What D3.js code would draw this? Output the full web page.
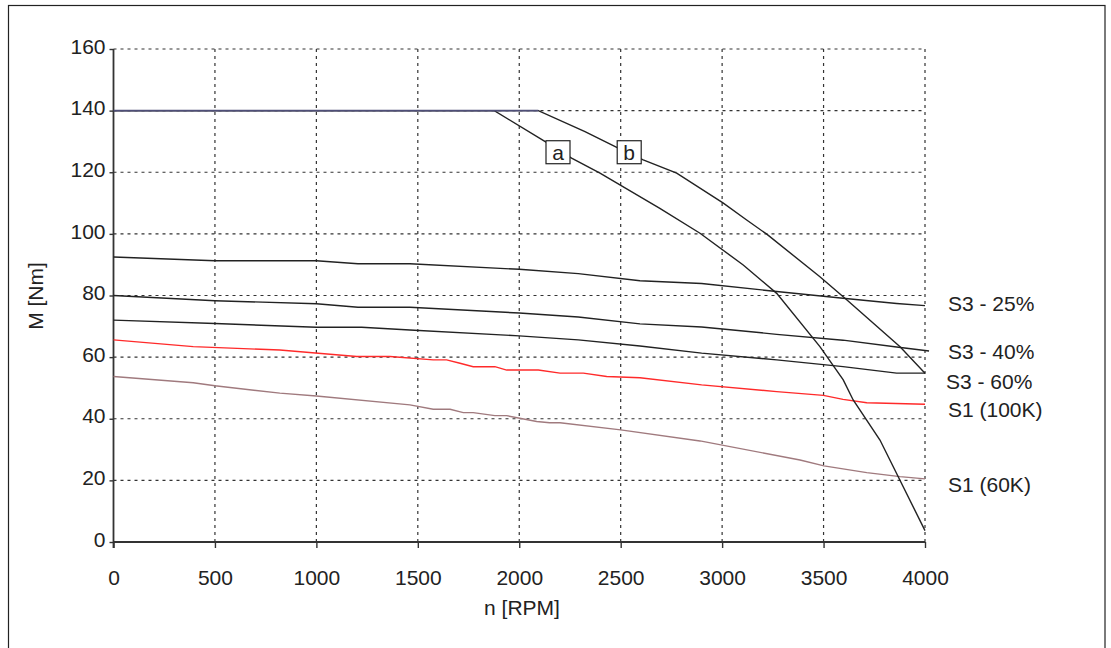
<!DOCTYPE html>
<html><head><meta charset="utf-8">
<script src="https://cdn.jsdelivr.net/npm/d3@7"></script>
<style>
html,body{margin:0;padding:0;background:#fff;}
svg{display:block;font-family:"Liberation Sans",Arial,sans-serif;}
</style></head>
<body>
<svg id="chart" width="1111" height="648"></svg>
<script>
// ---- data ----
const xTicks = [0, 500, 1000, 1500, 2000, 2500, 3000, 3500, 4000];
const yTicks = [0, 20, 40, 60, 80, 100, 120, 140, 160];

const maxTorqueRpm = [0, 2094];
const maxTorque = [140, 140];

const curveARpm = [0, 1877, 2126, 2258, 2398, 2693, 2891, 3104, 3269, 3482, 3597, 3646, 3778, 4000];
const curveA    = [140, 140, 130.0, 124.6, 119.7, 108.3, 100.2, 89.9, 80.7, 63.4, 52.6, 46.1, 33.1, 3.7];

const curveBRpm = [0, 2094, 2324, 2488, 2611, 2776, 3006, 3121, 3220, 3482, 3614, 3877, 4000];
const curveB    = [140, 140, 133.2, 127.8, 124.0, 119.7, 110.0, 104.5, 99.9, 86.1, 78.6, 63.4, 54.8];

const s3_25Rpm = [0, 500, 1000, 1205, 1461, 2000, 2291, 2595, 2899, 3269, 3596, 3860, 4000];
const s3_25    = [92.5, 91.3, 91.3, 90.3, 90.3, 88.5, 87.1, 84.8, 83.9, 81.3, 79.1, 77.4, 76.7];

const s3_40Rpm = [0, 500, 1000, 1205, 1461, 2000, 2291, 2595, 2899, 3269, 3596, 3860, 4020];
const s3_40    = [80.0, 78.3, 77.3, 76.2, 76.2, 74.3, 73.0, 70.8, 69.8, 67.4, 65.5, 63.3, 62.0];

const s3_60Rpm = [0, 500, 1000, 1223, 1461, 2000, 2291, 2595, 2899, 3269, 3596, 3860, 4000];
const s3_60    = [72.0, 70.9, 69.7, 69.7, 68.8, 66.9, 65.6, 63.6, 61.3, 59.1, 56.9, 54.8, 54.8];

const s1_100Rpm = [0, 393, 820, 1199, 1363, 1576, 1642, 1708, 1773, 1880, 1938, 2094, 2201, 2316, 2431, 2595, 2899, 3269, 3499, 3596, 3713, 4000];
const s1_100    = [65.6, 63.4, 62.3, 60.2, 60.2, 59.1, 59.1, 58.0, 56.9, 56.9, 55.8, 55.8, 54.8, 54.8, 53.7, 53.3, 51.0, 48.8, 47.6, 46.3, 45.2, 44.7];

const s1_60Rpm = [0, 393, 500, 820, 1000, 1461, 1576, 1659, 1724, 1773, 1880, 1938, 2086, 2150, 2201, 2500, 2891, 3384, 3502, 3713, 3877, 4000];
const s1_60    = [53.7, 51.7, 50.7, 48.3, 47.4, 44.5, 43.1, 43.1, 42.0, 42.0, 41.0, 41.0, 39.1, 38.7, 38.7, 36.4, 32.8, 26.6, 24.7, 22.5, 21.2, 20.5];

const seriesLabels = ["S3 - 25%", "S3 - 40%", "S3 - 60%", "S1 (100K)", "S1 (60K)"];
const boxLabels = ["a", "b"];
const boxRpm = [2191, 2542];
const boxTorque = [126.5, 126.5];

// ---- layout ----
const FS = 21;
const svg = d3.select("#chart");
const x = d3.scaleLinear().domain([0, 4000]).range([113.5, 925]);
const y = d3.scaleLinear().domain([0, 160]).range([542, 49]);

// frame
svg.append("rect").attr("x", 8.5).attr("y", 5.5).attr("width", 1096.5).attr("height", 660)
  .attr("fill", "none").attr("stroke", "#222").attr("stroke-width", 1.2);

// grid
const grid = svg.append("g").attr("stroke", "#333").attr("stroke-width", 1.2).attr("stroke-dasharray", "3,4");
grid.selectAll(".hg").data(yTicks.filter(d => d > 0)).join("line")
  .attr("x1", x(0)).attr("x2", x(4000)).attr("y1", d => y(d)).attr("y2", d => y(d));
grid.selectAll(".vg").data(xTicks.filter(d => d > 0)).join("line")
  .attr("y1", y(0)).attr("y2", y(160)).attr("x1", d => x(d)).attr("x2", d => x(d));

// axes
const xAxis = svg.append("g").attr("transform", `translate(0,${y(0)})`)
  .call(d3.axisBottom(x).tickValues(xTicks).tickFormat(d3.format("d")).tickSize(6).tickPadding(22));
const yAxis = svg.append("g").attr("transform", `translate(${x(0)},0)`)
  .call(d3.axisLeft(y).tickValues(yTicks).tickSize(4).tickPadding(4));
[xAxis, yAxis].forEach(a => {
  a.select(".domain").attr("stroke", "#333").attr("stroke-width", 1.8);
  a.selectAll(".tick line").attr("stroke", "#333").attr("stroke-width", 1.4);
  a.selectAll("text").attr("font-size", FS).attr("fill", "#222")
    .attr("font-family", "'Liberation Sans', Arial, sans-serif");
});
xAxis.select(".domain").attr("d", `M${x(0)},0H${x(4000)}`);
yAxis.select(".domain").attr("d", `M0,${y(160)}V${y(0) + 6}`);
yAxis.selectAll("text").attr("dy", "0.2em");

// axis titles
svg.append("text").attr("x", 522).attr("y", 615).attr("text-anchor", "middle")
  .attr("font-size", FS).attr("fill", "#222").text("n [RPM]");
svg.append("text").attr("transform", "translate(43,296) rotate(-90)").attr("text-anchor", "middle")
  .attr("font-size", FS).attr("fill", "#222").text("M [Nm]");

// lines
const line = d3.line().x(d => x(d[0])).y(d => y(d[1]));
const zip = (a, b) => a.map((v, i) => [v, b[i]]);
const curves = [
  [s1_60Rpm, s1_60, "#a07a7e", 1.4],
  [s1_100Rpm, s1_100, "#ff2a2a", 1.4],
  [s3_60Rpm, s3_60, "#222", 1.4],
  [s3_40Rpm, s3_40, "#222", 1.4],
  [s3_25Rpm, s3_25, "#222", 1.4],
  [curveARpm, curveA, "#222", 1.4],
  [curveBRpm, curveB, "#222", 1.4],
  [maxTorqueRpm, maxTorque, "#4f4f78", 1.8]
];
svg.append("g").selectAll("path").data(curves).join("path")
  .attr("d", d => line(zip(d[0], d[1])))
  .attr("fill", "none").attr("stroke", d => d[2]).attr("stroke-width", d => d[3]);

// boxes a, b
const bx = svg.append("g").selectAll("g").data(boxLabels).join("g")
  .attr("transform", (d, i) => `translate(${x(boxRpm[i])},${y(boxTorque[i])})`);
bx.append("rect").attr("x", -12).attr("y", -11.5).attr("width", 24).attr("height", 23)
  .attr("fill", "#fff").attr("stroke", "#222").attr("stroke-width", 1.2);
bx.append("text").attr("text-anchor", "middle").attr("dy", "0.36em").attr("font-size", FS)
  .attr("fill", "#222").text(d => d);

// right labels
const labelX = [948, 948, 946, 948, 948];
const labelY = [304, 352, 382, 410, 485];
svg.append("g").selectAll("text").data(seriesLabels).join("text")
  .attr("x", (d, i) => labelX[i]).attr("y", (d, i) => labelY[i]).attr("dy", "0.35em")
  .attr("font-size", FS).attr("fill", "#222").text(d => d);
</script>
</body></html>
